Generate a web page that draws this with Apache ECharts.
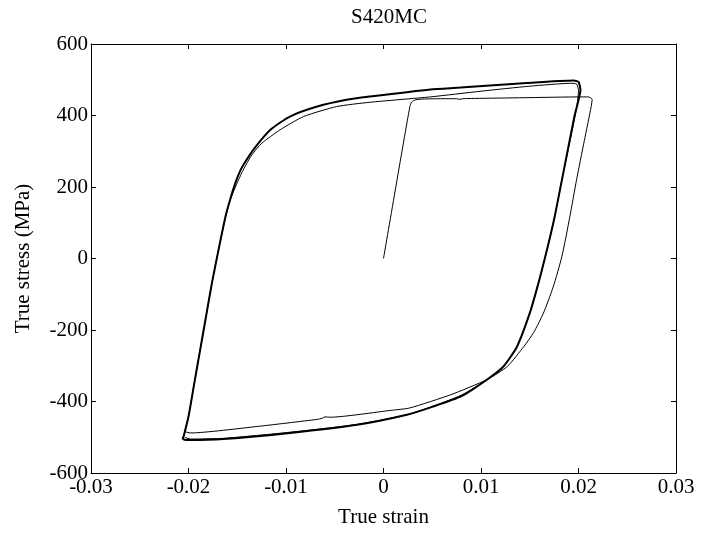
<!DOCTYPE html>
<html>
<head>
<meta charset="utf-8">
<script src="https://cdn.jsdelivr.net/npm/echarts@6/dist/echarts.min.js"></script>
<style>
html,body{margin:0;padding:0;background:#fff;}
#chart{width:709px;height:539px;}
</style>
</head>
<body>
<div id="chart"></div>
<script>
// Tick labels
const xTicks = [-0.03, -0.02, -0.01, 0, 0.01, 0.02, 0.03];
const yTicks = [-600, -400, -200, 0, 200, 400, 600];

// Cycle 1: initial loading, first unloading and first compression (thin)
const strain1 = [0, 0.0027, 0.0029, 0.0033, 0.0040, 0.0060, 0.0075, 0.0078, 0.0081, 0.0100, 0.0150, 0.0200, 0.0210, 0.0214, 0.0213, 0.0206, 0.0198, 0.0191, 0.0183, 0.0174, 0.0164, 0.0154, 0.0144, 0.0127, 0.0106, 0.0069, 0.0027, 0.0007, -0.0055, -0.0060, -0.0063, -0.0068, -0.0130, -0.0198, -0.0204];
const stress1 = [0, 425, 438, 444, 446, 447, 447, 445, 447, 448, 450, 452, 452, 445, 425, 330, 220, 115, 6, -80, -153, -207, -246, -302, -339, -381, -418, -425, -444, -443, -447, -450, -470, -488, -484];

// Cycle 2: reloading along the inner upper branch (thin)
const strain2 = [-0.0204, -0.0200, -0.0194, -0.0188, -0.0182, -0.0176, -0.0169, -0.0162, -0.0157, -0.0151, -0.0144, -0.0135, -0.0125, -0.0106, -0.0082, -0.0048, -0.0014, 0.0048, 0.0100, 0.0150, 0.0192, 0.0198, 0.0200, 0.0198, 0.0183, 0.0175, 0.0166, 0.0158, 0.0150, 0.0137, 0.0123, 0.0106, 0.0080, 0.0050, 0.0024, -0.0027, -0.0096, -0.0164, -0.0198, -0.0204];
const stress2 = [-484, -442, -348, -255, -162, -69, 27, 116, 165, 206, 247, 290, 322, 360, 397, 425, 437, 452, 468, 482, 490, 488, 470, 420, 220, 110, 6, -78, -153, -246, -302, -339, -382, -414, -437, -464, -486, -503, -505, -500];

// Stabilised cycles: outer loop (thick)
const strainM = [-0.0205, -0.0200, -0.0194, -0.0188, -0.0182, -0.0176, -0.0169, -0.0162, -0.0157, -0.0152, -0.0147, -0.0143, -0.0133, -0.0116, -0.0096, -0.0068, -0.0038, -0.0014, 0.0048, 0.0079, 0.0147, 0.0195, 0.0200, 0.0202, 0.0196, 0.0183, 0.0175, 0.0166, 0.0158, 0.0150, 0.0137, 0.0123, 0.0106, 0.0080, 0.0050, 0.0024, -0.0027, -0.0096, -0.0164, -0.0198, -0.0204, -0.0206, -0.0205];
const stressM = [-498, -442, -348, -255, -162, -69, 27, 118, 168, 211, 245, 265, 306, 360, 397, 425, 444, 453, 473, 478, 491, 498, 494, 472, 400, 220, 110, 6, -78, -153, -246, -302, -339, -385, -415, -437, -465, -488, -505, -508, -507, -503, -498];

function pairs(xs, ys) { return xs.map((x, i) => [x, ys[i]]); }

const FONT = 'Liberation Serif';
const chart = echarts.init(document.getElementById('chart'), null, {renderer: 'canvas'});

const baseAxisLine = {show: true, onZero: false, lineStyle: {color: '#000', width: 1}};
const tickStyle = {show: true, inside: true, length: 5, lineStyle: {color: '#000', width: 1}};

function lineSeries(xs, ys, w) {
  return {
    type: 'line', data: pairs(xs, ys), showSymbol: false, symbol: 'none',
    smooth: 0.2, lineStyle: {color: '#000', width: w}, silent: true,
    xAxisIndex: 0, yAxisIndex: 0, animation: false
  };
}

chart.setOption({
  backgroundColor: '#fff',
  animation: false,
  title: {
    text: 'S420MC', left: 384, top: 2, textAlign: 'center',
    textStyle: {fontFamily: FONT, fontSize: 21, fontWeight: 'normal', color: '#000'}
  },
  grid: {left: 91, top: 44, right: 33, bottom: 66, containLabel: false},
  xAxis: [
    {
      type: 'value', min: xTicks[0], max: xTicks[xTicks.length - 1], interval: 0.01,
      position: 'bottom', name: 'True strain', nameLocation: 'middle', nameGap: 34,
      nameTextStyle: {fontFamily: FONT, fontSize: 21, color: '#000'},
      axisLine: baseAxisLine, axisTick: tickStyle, splitLine: {show: false},
      axisLabel: {fontFamily: FONT, fontSize: 21, color: '#000', margin: 4,
        formatter: v => String(Math.round(v * 100) / 100)}
    },
    {
      type: 'value', min: xTicks[0], max: xTicks[xTicks.length - 1], interval: 0.01,
      position: 'top', axisLine: baseAxisLine, axisTick: tickStyle,
      axisLabel: {show: false}, splitLine: {show: false}
    }
  ],
  yAxis: [
    {
      type: 'value', min: yTicks[0], max: yTicks[yTicks.length - 1], interval: 200,
      position: 'left', name: 'True stress (MPa)', nameLocation: 'middle', nameGap: 57,
      nameTextStyle: {fontFamily: FONT, fontSize: 21, color: '#000'},
      axisLine: baseAxisLine, axisTick: tickStyle, splitLine: {show: false},
      axisLabel: {fontFamily: FONT, fontSize: 21, color: '#000', margin: 3}
    },
    {
      type: 'value', min: yTicks[0], max: yTicks[yTicks.length - 1], interval: 200,
      position: 'right', axisLine: baseAxisLine, axisTick: tickStyle,
      axisLabel: {show: false}, splitLine: {show: false}
    }
  ],
  series: [
    lineSeries(strain1, stress1, 1),
    lineSeries(strain2, stress2, 1),
    lineSeries(strainM, stressM, 2)
  ]
});
</script>
</body>
</html>
